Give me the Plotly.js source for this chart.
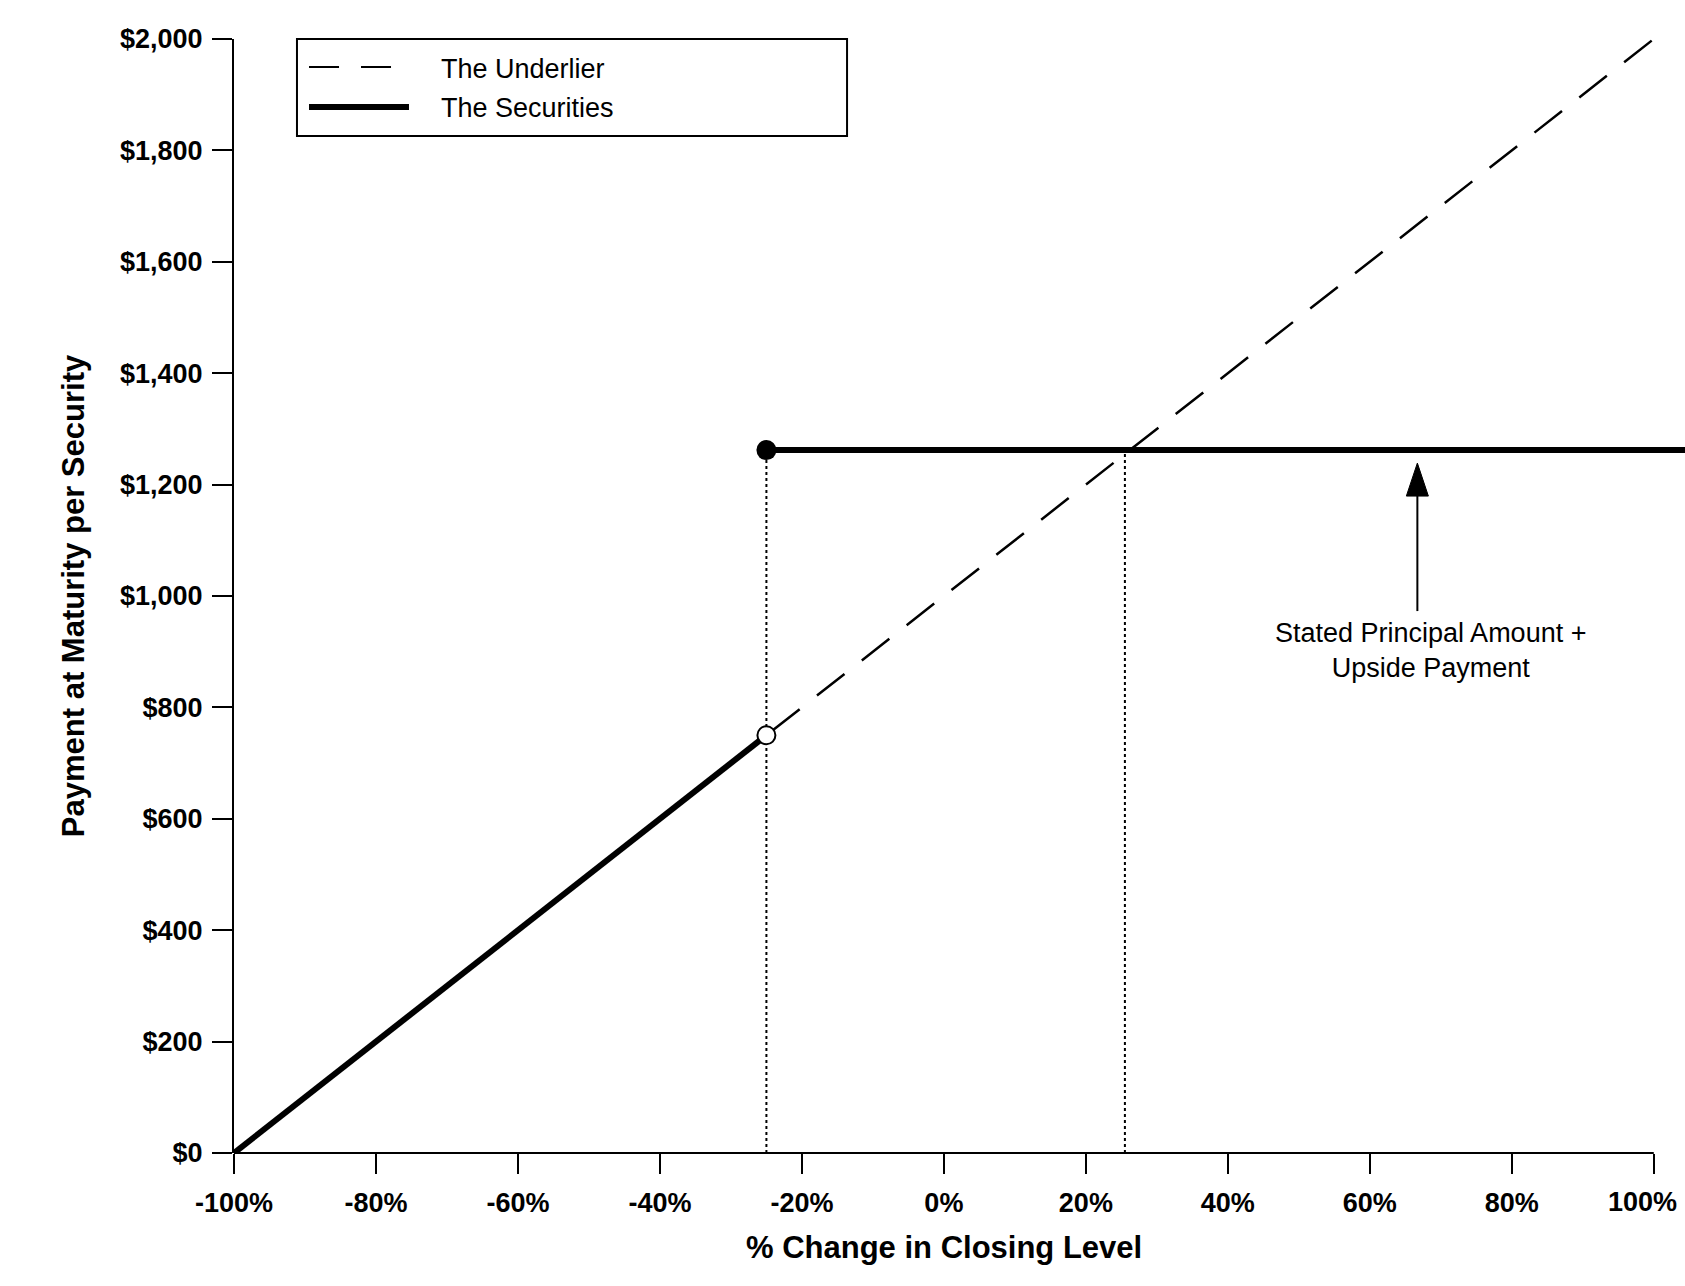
<!DOCTYPE html>
<html>
<head>
<meta charset="utf-8">
<script src="https://cdn.plot.ly/plotly-3.0.1.min.js"></script>
<style>
  html, body { margin: 0; padding: 0; background: #fff; }
  #chart { width: 1685px; height: 1286px; }
</style>
</head>
<body>
<div id="chart"></div>
<script>
const FONT = "Liberation Sans, Arial, Helvetica, sans-serif";

// % change in closing level vs payment at maturity
const underlierX = [-100, 100];
const underlierY = [0, 2000];
const securitiesX = [-100, -25, null, -25, 110];
const securitiesY = [0, 750, null, 1262, 1262];
const guideX = [-25, 25.5];
const capLevel = 1262;
const thresholdX = [-25];
const thresholdY = [750];
const capStartX = [-25];
const capStartY = [1262];

const xTicks = [-100, -80, -60, -40, -20, 0, 20, 40, 60, 80, 100];
const xTickText = ["-100%", "-80%", "-60%", "-40%", "-20%", "0%", "20%", "40%", "60%", "80%", "100%"];
const yTicks = [0, 200, 400, 600, 800, 1000, 1200, 1400, 1600, 1800, 2000];
const yTickText = ["$0", "$200", "$400", "$600", "$800", "$1,000", "$1,200", "$1,400", "$1,600", "$1,800", "$2,000"];

const legendNames = ["The Underlier", "The Securities"];
const calloutText = "Stated Principal Amount +<br>Upside Payment";
const calloutX = 66.7;

const black = "#000";
const last = xTicks.length - 1;

// dotted drop lines from the cap level to the axis
const guides = guideX.map((x) => ({
  type: "scatter",
  mode: "lines",
  x: [x, x],
  y: [0, capLevel],
  line: { color: black, width: 2, dash: "dot" },
  hoverinfo: "skip",
  showlegend: false,
}));

const traces = [
  ...guides,
  {
    type: "scatter",
    mode: "lines",
    name: legendNames[0],
    x: underlierX,
    y: underlierY,
    line: { color: black, width: 2.5, dash: "35px,22px" },
    showlegend: false,
  },
  {
    type: "scatter",
    mode: "lines",
    name: legendNames[1],
    x: securitiesX,
    y: securitiesY,
    line: { color: black, width: 6 },
    connectgaps: false,
    showlegend: false,
  },
  {
    type: "scatter",
    mode: "markers",
    x: capStartX,
    y: capStartY,
    marker: { color: black, size: 20 },
    cliponaxis: false,
    showlegend: false,
  },
  {
    type: "scatter",
    mode: "markers",
    x: thresholdX,
    y: thresholdY,
    marker: { color: "#fff", size: 18, line: { color: black, width: 2 } },
    cliponaxis: false,
    showlegend: false,
  },
];

const tickFont = { family: FONT, size: 27, color: black, weight: "bold" };

const layout = {
  width: 1685,
  height: 1286,
  margin: { l: 234, r: 0, t: 39, b: 133, pad: 0 },
  paper_bgcolor: "#fff",
  plot_bgcolor: "#fff",
  showlegend: false,
  xaxis: {
    range: [-100, 104.4],
    tickvals: xTicks,
    // the 100% label sits a little left of its tick (annotation below) so it stays on the page
    ticktext: xTickText.map((t, i) => (i === last ? "" : t)),
    ticks: "outside",
    ticklen: 20,
    tickwidth: 2,
    tickcolor: black,
    tickfont: tickFont,
    ticklabelstandoff: 6,
    showline: false,
    showgrid: false,
    zeroline: false,
    fixedrange: true,
  },
  yaxis: {
    range: [0, 2000],
    tickvals: yTicks,
    ticktext: yTickText,
    ticks: "outside",
    ticklen: 20,
    tickwidth: 2,
    tickcolor: black,
    tickfont: tickFont,
    ticklabelstandoff: 4,
    showline: true,
    linewidth: 2,
    linecolor: black,
    showgrid: false,
    zeroline: false,
    fixedrange: true,
    title: {
      text: "Payment at Maturity per Security",
      font: { family: FONT, size: 31, color: black, weight: "bold" },
      standoff: 26,
    },
  },
  shapes: [
    // x axis line stops at 100%
    { type: "line", xref: "x", yref: "paper", x0: -100, x1: 100, y0: 0, y1: 0, line: { color: black, width: 2 } },
    // legend box and samples
    { type: "rect", xref: "paper", yref: "paper", x0: 0.0434, x1: 0.4225, y0: 0.9129, y1: 1.0, line: { color: black, width: 2 }, fillcolor: "#fff" },
    { type: "line", xref: "paper", yref: "paper", x0: 0.0517, x1: 0.1206, y0: 0.9749, y1: 0.9749, line: { color: black, width: 2, dash: "30px,22px" } },
    { type: "line", xref: "paper", yref: "paper", x0: 0.0517, x1: 0.1206, y0: 0.939, y1: 0.939, line: { color: black, width: 6 } },
    // callout arrow
    { type: "line", xref: "x", yref: "y", xsizemode: "pixel", ysizemode: "pixel", xanchor: calloutX, yanchor: capLevel, x0: 0, x1: 0, y0: -44, y1: -161, line: { color: black, width: 2 } },
    { type: "path", xref: "x", yref: "y", xsizemode: "pixel", ysizemode: "pixel", xanchor: calloutX, yanchor: capLevel, path: "M0,-13L-11,-46L11,-46Z", fillcolor: black, line: { color: black, width: 1 } },
  ],
  annotations: [
    { xref: "x", yref: "paper", x: xTicks[last], y: 0, xshift: -11, yshift: -49, xanchor: "center", yanchor: "middle", text: xTickText[last], showarrow: false, font: tickFont },
    { xref: "paper", yref: "paper", x: 0.1413, y: 0.973, xanchor: "left", yanchor: "middle", text: legendNames[0], showarrow: false, font: { family: FONT, size: 27, color: black } },
    { xref: "paper", yref: "paper", x: 0.1413, y: 0.938, xanchor: "left", yanchor: "middle", text: legendNames[1], showarrow: false, font: { family: FONT, size: 27, color: black } },
    { xref: "x", yref: "y", x: 68.6, y: 902, xanchor: "center", yanchor: "middle", text: calloutText, showarrow: false, font: { family: FONT, size: 27, color: black } },
    { xref: "x", yref: "paper", x: 0, y: 0, yshift: -94, xanchor: "center", yanchor: "middle", text: "% Change in Closing Level", showarrow: false, font: { family: FONT, size: 31, color: black, weight: "bold" } },
  ],
};

Plotly.newPlot("chart", traces, layout, { displayModeBar: false, staticPlot: true });
</script>
</body>
</html>
